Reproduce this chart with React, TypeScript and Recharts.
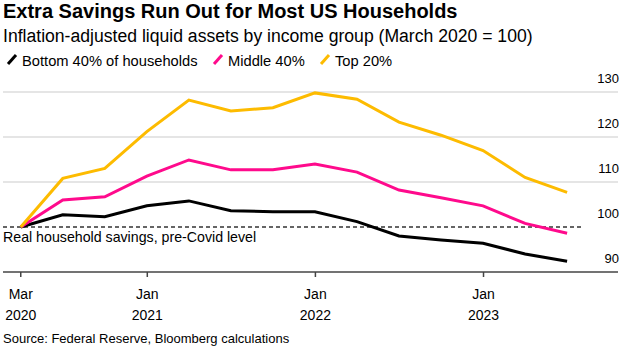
import { CartesianGrid, Line, LineChart, ReferenceLine, XAxis, YAxis } from 'recharts';

const quarters = [
  '2020-03-31', '2020-06-30', '2020-09-30', '2020-12-31',
  '2021-03-31', '2021-06-30', '2021-09-30', '2021-12-31',
  '2022-03-31', '2022-06-30', '2022-09-30', '2022-12-31',
  '2023-03-31', '2023-06-30',
];
const bottom40 = [100, 102.7, 102.3, 104.7, 105.8, 103.6, 103.4, 103.4, 101.2, 98.0, 97.1, 96.4, 94.0, 92.4];
const middle40 = [100, 106.0, 106.7, 111.3, 114.9, 112.7, 112.7, 114.0, 112.2, 108.2, 106.5, 104.7, 100.8, 98.6];
const top20 = [100, 110.8, 113.0, 121.2, 128.2, 125.8, 126.5, 129.8, 128.4, 123.3, 120.4, 117.0, 111.0, 107.7];

const yTicks = [90, 100, 110, 120, 130];
const xTickDates = ['2020-03-31', '2021-01-01', '2022-01-01', '2023-01-01'];
const xTickLabels = [['Mar', '2020'], ['Jan', '2021'], ['Jan', '2022'], ['Jan', '2023']];

const BLACK = '#000000';
const PINK = '#ff0a8c';
const YELLOW = '#fdbb00';
const FONT = '"Liberation Sans", Arial, sans-serif';

// months since Jan 2020, fractional
function toMonths(d: string) {
  const [y, m, day] = d.split('-').map(Number);
  const dim = new Date(Date.UTC(y, m, 0)).getUTCDate();
  return (y - 2020) * 12 + (m - 1) + (day - 1) / dim;
}

const data = quarters.map((q, i) => ({
  t: toMonths(q),
  bottom: bottom40[i],
  middle: middle40[i],
  top: top20[i],
}));

const xTicks = xTickDates.map(toMonths);

function XTick(props: any) {
  const { x, y, index } = props;
  const [a, b] = xTickLabels[index] ?? ['', ''];
  return (
    <text x={x} y={y} textAnchor="middle" fontSize={14} fill="#000" fontFamily={FONT}>
      <tspan x={x} dy={20}>{a}</tspan>
      <tspan x={x} dy={21}>{b}</tspan>
    </text>
  );
}

function renderYTick(props: any) {
  const { y, payload } = props;
  return (
    <text x={619} y={y - 9} textAnchor="end" fontSize={13} fill="#000" fontFamily={FONT}>
      {payload.value}
    </text>
  );
}

function LegendItem({ color, label, x }: { color: string; label: string; x: number }) {
  return (
    <g>
      <line x1={x} y1={64} x2={x + 8} y2={55} stroke={color} strokeWidth={3} />
      <text x={x + 14} y={66} fontSize={14.7} fontFamily={FONT} fill="#000">{label}</text>
    </g>
  );
}

export default function App() {
  return (
    <div style={{ position: 'absolute', left: 0, top: 0, width: 624, height: 351, background: '#fff', fontFamily: FONT }}>
      <svg width={624} height={351} style={{ position: 'absolute', left: 0, top: 0 }}>
        <text x={3} y={18} fontSize={20} fontWeight="bold" fontFamily={FONT} fill="#000">
          Extra Savings Run Out for Most US Households
        </text>
        <text x={3} y={42} fontSize={17.6} fontFamily={FONT} fill="#000">
          Inflation-adjusted liquid assets by income group (March 2020 = 100)
        </text>
        <LegendItem color={BLACK} label="Bottom 40% of households" x={8} />
        <LegendItem color={PINK} label="Middle 40%" x={214} />
        <LegendItem color={YELLOW} label="Top 20%" x={321} />
        <text x={3} y={343} fontSize={13} fontFamily={FONT} fill="#000">
          Source: Federal Reserve, Bloomberg calculations
        </text>
      </svg>
      <div style={{ position: 'absolute', left: 0, top: 0 }}>
        <LineChart width={624} height={351} data={data} margin={{ top: 92, right: 0, bottom: 29, left: 3 }}>
          <CartesianGrid vertical={false} stroke="#dcdcdc" strokeWidth={1.5} horizontalValues={[110, 120, 130]} />
          <XAxis
            dataKey="t"
            type="number"
            domain={[1.7, 45.6]}
            ticks={xTicks}
            height={50}
            axisLine={{ stroke: '#444', strokeWidth: 1.5 }}
            tickLine={{ stroke: '#444', strokeWidth: 1.5 }}
            tickSize={5}
            tick={<XTick />}
            interval={0}
          />
          <YAxis
            orientation="right"
            type="number"
            domain={[90, 130]}
            ticks={yTicks}
            width={6}
            axisLine={false}
            tickLine={false}
            tick={renderYTick}
            interval={0}
          />
          <ReferenceLine
            segment={[{ x: 1.7, y: 100 }, { x: 43.07, y: 100 }]}
            stroke="#333"
            strokeWidth={1.5}
            strokeDasharray="4 3"
            label={(p: any) => (
              <text x={3} y={(p.viewBox?.y ?? 227) + 15} fontSize={14.2} fontFamily={FONT} fill="#000">
                Real household savings, pre-Covid level
              </text>
            )}
          />
          <Line type="linear" dataKey="bottom" stroke={BLACK} strokeWidth={3} dot={false} isAnimationActive={false} />
          <Line type="linear" dataKey="middle" stroke={PINK} strokeWidth={3} dot={false} isAnimationActive={false} />
          <Line type="linear" dataKey="top" stroke={YELLOW} strokeWidth={3} dot={false} isAnimationActive={false} />
        </LineChart>
      </div>
    </div>
  );
}
